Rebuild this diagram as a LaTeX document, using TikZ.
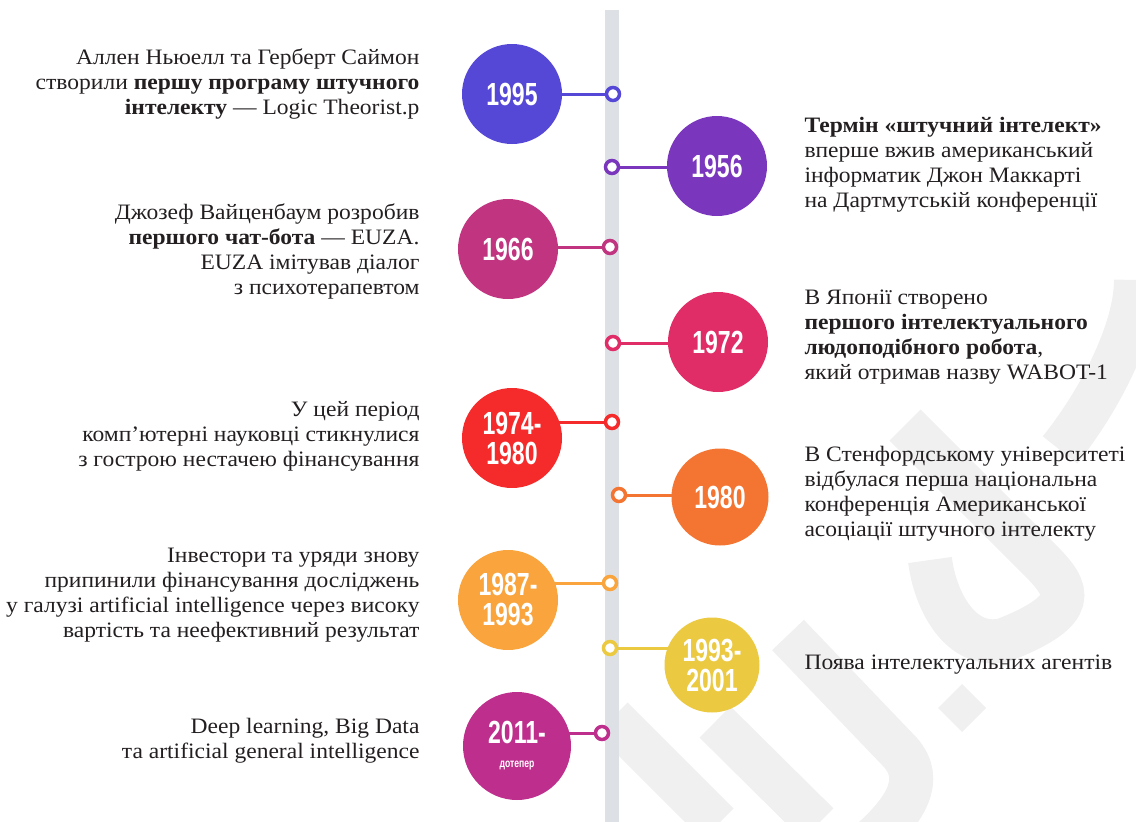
\documentclass[tikz,border=0pt]{standalone}
\usepackage{fontspec}
\setmainfont{Liberation Serif}[FakeStretch=1.07]
\newfontfamily\yearfont[FakeStretch=0.72]{Liberation Sans}
\usetikzlibrary{positioning,backgrounds}

\definecolor{c1995}{HTML}{5548D6}
\definecolor{c1956}{HTML}{7A37BD}
\definecolor{c1966}{HTML}{C03480}
\definecolor{c1972}{HTML}{E02D68}
\definecolor{c1974}{HTML}{F52B2B}
\definecolor{c1980}{HTML}{F47432}
\definecolor{c1987}{HTML}{F9A43C}
\definecolor{c1993}{HTML}{EBC940}
\definecolor{c2011}{HTML}{BE2E8C}
\definecolor{ink}{HTML}{231F20}
\definecolor{railgrey}{HTML}{DDE1E6}
\definecolor{wmgrey}{HTML}{F0F0F0}

\tikzset{
	yearnode/.style={circle, minimum size=100pt, inner sep=0pt, text=white, align=center,
		font=\yearfont\bfseries\fontsize{32}{30}\selectfont},
	ring/.style={circle, minimum size=13pt, inner sep=0pt, line width=3.5pt, fill=white},
	link/.style={line width=3pt},
	lefttext/.style={anchor=east, align=right, text=ink, font=\fontsize{22}{25}\selectfont},
	righttext/.style={anchor=west, align=left, text=ink, font=\fontsize{22}{25}\selectfont},
	wm/.style={wmgrey, line width=44pt}
}

\begin{document}
\begin{tikzpicture}[x=1pt,y=-1pt]
	\useasboundingbox (0,0) rectangle (1136,822);

	\node [yearnode, fill=c1995] (y1995) at (512,94) {1995};
	\node [ring, draw=c1995] (r1995) at (613,94) {};
	\node [yearnode, fill=c1956] (y1956) at (717,166) {1956};
	\node [ring, draw=c1956] (r1956) at (612,167) {};
	\node [yearnode, fill=c1966] (y1966) at (508,249) {1966};
	\node [ring, draw=c1966] (r1966) at (610,247) {};
	\node [yearnode, fill=c1972] (y1972) at (718,342) {1972};
	\node [ring, draw=c1972] (r1972) at (613,343) {};
	\node [yearnode, fill=c1974] (y1974) at (512,438) {1974-\\1980};
	\node [ring, draw=c1974] (r1974) at (612,422) {};
	\node [yearnode, fill=c1980, minimum size=97pt] (y1980) at (720,497) {1980};
	\node [ring, draw=c1980] (r1980) at (619,495) {};
	\node [yearnode, fill=c1987] (y1987) at (508,600) {1987-\\1993};
	\node [ring, draw=c1987] (r1987) at (610,583) {};
	\node [yearnode, fill=c1993, minimum size=95pt] (y1993) at (712,665) {1993-\\2001};
	\node [ring, draw=c1993] (r1993) at (610,648) {};
	\node [yearnode, fill=c2011, minimum size=108pt] (y2011) at (517,746) {2011-\\[-6pt]{\fontsize{12}{12}\selectfont дотепер}};
	\node [ring, draw=c2011] (r2011) at (602,733) {};

	\begin{scope}[on background layer]
		\draw [wm] (612,718) -- (718,824);
		\draw [wm] (715,722) -- (818,824);
		\draw [wm] (788,635) -- (900,752) .. controls (925,780) and (905,810) .. (872,840);
		\fill [wmgrey] (962,684) -- (986,708) -- (962,732) -- (938,708) -- cycle;
		\draw [wm] (905,425) -- (1040,560) .. controls (1070,590) and (1080,610) .. (1004,640) .. controls (960,650) and (935,600) .. (930,560);
		\draw [wm] (1060,450) .. controls (1100,400) and (1136,330) .. (1136,280);
		\draw [railgrey, line width=14pt] (612,10) -- (612,822);
		\draw [link, c1995] (r1995) -- (r1995 -| y1995);
		\draw [link, c1956] (r1956) -- (r1956 -| y1956);
		\draw [link, c1966] (r1966) -- (r1966 -| y1966);
		\draw [link, c1972] (r1972) -- (r1972 -| y1972);
		\draw [link, c1974] (r1974) -- (r1974 -| y1974);
		\draw [link, c1980] (r1980) -- (r1980 -| y1980);
		\draw [link, c1987] (r1987) -- (r1987 -| y1987);
		\draw [link, c1993] (r1993) -- (r1993 -| y1993);
		\draw [link, c2011] (r2011) -- (r2011 -| y2011);
	\end{scope}

	\node [lefttext] (t1995) at (423,84) {Аллен Ньюелл та Герберт Саймон\\створили \textbf{першу програму штучного}\\\textbf{інтелекту} — Logic Theorist.p};
	\node [righttext] (t1956) at (801,165) {\textbf{Термін «штучний інтелект»}\\вперше вжив американський\\інформатик Джон Маккарті\\на Дартмутській конференції};
	\node [lefttext] (t1966) at (423,251) {Джозеф Вайценбаум розробив\\\textbf{першого чат-бота} — EUZA.\\EUZA імітував діалог\\з психотерапевтом};
	\node [righttext] (t1972) at (801,337) {В Японії створено\\\textbf{першого інтелектуального}\\\textbf{людоподібного робота},\\який отримав назву WABOT-1};
	\node [lefttext] (t1974) at (423,436) {У цей період\\комп’ютерні науковці стикнулися\\з гострою нестачею фінансування};
	\node [righttext] (t1980) at (801,494) {В Стенфордському університеті\\відбулася перша національна\\конференція Американської\\асоціації штучного інтелекту};
	\node [lefttext] (t1987) at (423,595) {Інвестори та уряди знову\\припинили фінансування досліджень\\у галузі artificial intelligence через високу\\вартість та неефективний результат};
	\node [righttext] (t1993) at (801,665) {Поява інтелектуальних агентів};
	\node [lefttext] (t2011) at (423,741) {Deep learning, Big Data\\та artificial general intelligence};
\end{tikzpicture}
\end{document}
